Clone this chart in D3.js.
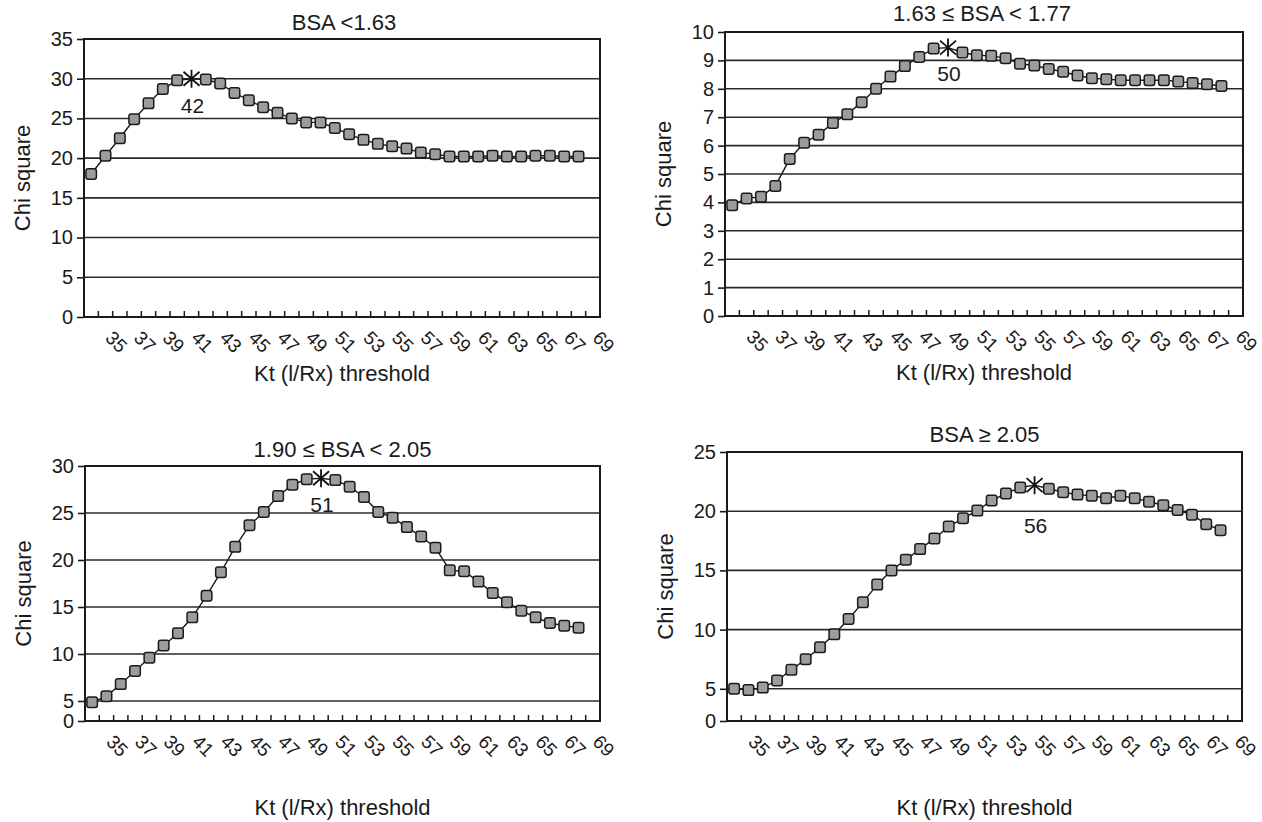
<!DOCTYPE html>
<html><head><meta charset="utf-8">
<script src="https://cdn.jsdelivr.net/npm/d3@7"></script>
<style>
body{margin:0;background:#fff}
svg text{font-family:"Liberation Sans",Arial,Helvetica,sans-serif;fill:#1a1a1a}
</style>
</head><body>
<svg id="chart" width="1262" height="822"></svg>
<script>
// ---------- data ----------
const categories = [35,36,37,38,39,40,41,42,43,44,45,46,47,48,49,50,51,52,53,54,55,56,57,58,59,60,61,62,63,64,65,66,67,68,69,70];
const thresholds = [35,36,37,38,39,40,41,42,43,44,45,46,47,48,49,50,51,52,53,54,55,56,57,58,59,60,61,62,63,64,65,66,67,68,69];
const xTickLabels = ["35","37","39","41","43","45","47","49","51","53","55","57","59","61","63","65","67","69"];

const titles = ["BSA <1.63", "1.63 \u2264 BSA < 1.77", "1.90 \u2264 BSA < 2.05", "BSA \u2265 2.05"];
const xAxisTitle = "Kt (l/Rx) threshold";
const yAxisTitle = "Chi square";
const peakThresholds = [42, 50, 51, 56];

const chiBsaLow = [18.0,20.3,22.5,24.9,26.9,28.7,29.8,30.0,29.9,29.4,28.2,27.3,26.4,25.7,25.0,24.5,24.5,23.8,23.0,22.3,21.8,21.5,21.2,20.7,20.5,20.2,20.2,20.2,20.3,20.2,20.2,20.3,20.3,20.2,20.2];
const chiBsaMid1 = [3.9,4.14,4.2,4.58,5.53,6.1,6.38,6.8,7.1,7.53,8.0,8.43,8.8,9.12,9.42,9.45,9.28,9.18,9.16,9.08,8.88,8.82,8.7,8.6,8.47,8.37,8.34,8.3,8.3,8.3,8.3,8.26,8.2,8.16,8.1];
const chiBsaMid2 = [4.7,5.5,6.8,8.2,9.6,10.9,12.2,13.9,16.2,18.7,21.4,23.7,25.1,26.8,28.0,28.6,28.7,28.5,27.8,26.7,25.1,24.5,23.5,22.5,21.3,18.9,18.8,17.7,16.5,15.5,14.6,13.9,13.3,13.0,12.8];
const chiBsaHigh = [5.0,4.8,5.1,5.7,6.6,7.5,8.5,9.6,10.9,12.3,13.8,15.0,15.9,16.8,17.7,18.7,19.4,20.05,20.9,21.5,22.0,22.2,21.9,21.6,21.4,21.3,21.1,21.3,21.1,20.8,20.5,20.1,19.7,18.9,18.4];

const yTicksLow = [0,5,10,15,20,25,30,35];
const yTicksMid1 = [0,1,2,3,4,5,6,7,8,9,10];
const yTicksMid2 = [0,5,10,15,20,25,30];
const yTicksHigh = [0,5,10,15,20,25];

const seriesList = [chiBsaLow, chiBsaMid1, chiBsaMid2, chiBsaHigh];
const yTickList = [yTicksLow, yTicksMid1, yTicksMid2, yTicksHigh];

// ---------- layout ----------
// fullB: where 0 would sit on a linear axis; b: where the (cropped) bottom axis is drawn
const layout = [
  {l:84,  r:600,  t:39,  b:317, fullB:317, titleY:30,  titleDx:2,  peakDy:34, xTitleY:381},
  {l:725, r:1243, t:32,  b:316, fullB:316, titleY:21,  titleDx:-2, peakDy:33, xTitleY:380},
  {l:85,  r:600,  t:466, b:721, fullB:748, titleY:457, titleDx:0,  peakDy:34, xTitleY:815},
  {l:727, r:1242, t:452, b:721, fullB:748, titleY:442, titleDx:0,  peakDy:48, xTitleY:815}
];

const svg = d3.select("#chart");
const FONT = '"Liberation Sans",Arial,sans-serif';

seriesList.forEach((vals, i) => {
  const L = layout[i];
  const ticks = yTickList[i];
  const yMax = d3.max(ticks);
  const g = svg.append("g");
  const x = d3.scaleBand().domain(categories).range([L.l, L.r]).padding(0);
  const yLin = d3.scaleLinear().domain([0, yMax]).range([L.fullB, L.t]);
  const y = d3.scaleLinear().domain([0, ticks[1], yMax]).range([L.b, yLin(ticks[1]), L.t]);
  const cx = v => x(v) + x.bandwidth()/2;

  // gridlines
  g.selectAll("line.grid").data(ticks.filter(t => t > 0 && t < yMax)).enter()
    .append("line")
    .attr("x1", L.l).attr("x2", L.r)
    .attr("y1", d => y(d)).attr("y2", d => y(d))
    .attr("stroke", "#2a2a2a").attr("stroke-width", 1.6);

  // plot border
  g.append("rect").attr("x", L.l).attr("y", L.t)
    .attr("width", L.r - L.l).attr("height", L.b - L.t)
    .attr("fill", "none").attr("stroke", "#1a1a1a").attr("stroke-width", 2);

  // y axis
  const yAxis = d3.axisLeft(y).tickValues(ticks).tickSize(7).tickPadding(4).tickFormat(d3.format("d"));
  const ya = g.append("g").attr("transform", `translate(${L.l},0)`).call(yAxis);
  ya.select(".domain").remove();
  ya.selectAll(".tick line").attr("stroke", "#1a1a1a").attr("stroke-width", 1.6);
  ya.selectAll(".tick text").attr("font-size", 20).attr("fill", "#1a1a1a").style("font-family", FONT);

  // x tick marks at category boundaries (inside, pointing up)
  g.selectAll("line.xt").data(categories.slice(1)).enter()
    .append("line")
    .attr("x1", d => x(d)).attr("x2", d => x(d))
    .attr("y1", L.b).attr("y2", L.b - 6)
    .attr("stroke", "#1a1a1a").attr("stroke-width", 1.5);

  // x tick labels (rotated)
  g.selectAll("text.xl").data(xTickLabels).enter()
    .append("text")
    .attr("font-size", 19)
    .attr("transform", d => `translate(${cx(+d) + 13},${L.b + 22}) rotate(45)`)
    .attr("text-anchor", "start")
    .text(d => d);

  // line
  const pts = thresholds.map((t, k) => ({t, v: vals[k]}));
  const line = d3.line().x(d => cx(d.t)).y(d => y(d.v));
  g.append("path").datum(pts).attr("d", line)
    .attr("fill", "none").attr("stroke", "#1a1a1a").attr("stroke-width", 1.4);

  // markers
  const peak = peakThresholds[i];
  const ms = 10.5;
  g.selectAll("rect.m").data(pts.filter(d => d.t !== peak)).enter()
    .append("rect")
    .attr("x", d => cx(d.t) - ms/2).attr("y", d => y(d.v) - ms/2)
    .attr("width", ms).attr("height", ms).attr("rx", 2.2)
    .attr("fill", "#9c9c9c").attr("stroke", "#1a1a1a").attr("stroke-width", 1.5);

  // star marker at peak
  const pk = pts.find(d => d.t === peak);
  const sx = cx(pk.t), sy = y(pk.v);
  g.append("path")
    .attr("d", `M${sx},${sy-9}L${sx},${sy+9}M${sx-8},${sy-7}L${sx+8},${sy+7}M${sx-8},${sy+7}L${sx+8},${sy-7}`)
    .attr("stroke", "#111").attr("stroke-width", 1.8).attr("fill", "none");
  g.append("text").attr("x", sx + 1).attr("y", sy + L.peakDy)
    .attr("text-anchor", "middle").attr("font-size", 21).text(peak);

  // titles
  g.append("text").attr("x", (L.l + L.r)/2 + L.titleDx).attr("y", L.titleY)
    .attr("text-anchor", "middle").attr("font-size", 22).text(titles[i]);
  g.append("text").attr("x", (L.l + L.r)/2).attr("y", L.xTitleY)
    .attr("text-anchor", "middle").attr("font-size", 22).text(xAxisTitle);
  g.append("text")
    .attr("transform", `translate(${L.l - 62},${(L.t + L.b)/2}) rotate(-90)`)
    .attr("text-anchor", "middle").attr("dominant-baseline", "central")
    .attr("font-size", 22).text(yAxisTitle);
});
</script>
</body></html>
